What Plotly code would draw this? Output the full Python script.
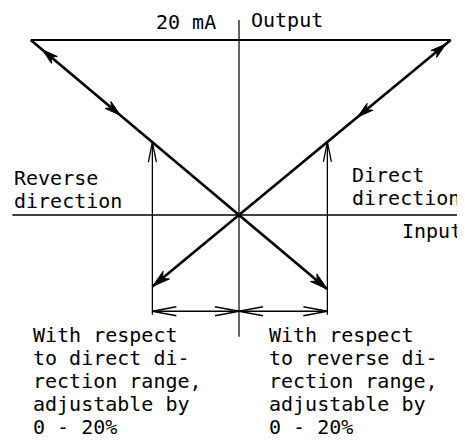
import numpy as np
import plotly.graph_objects as go

# geometry of the characteristic, in diagram units (output in mA, 1 unit = 1 mA)
out_max = 20.0
reverse_corner = [-23.8, 20.0]   # where the reverse-direction line meets 20 mA
direct_corner = [24.2, 20.0]     # where the direct-direction line meets 20 mA
shift_x = [-9.9, 10.1]           # 0 - 20 % range shift, left and right
input_axis = [-25.9, 25.8]
output_axis = [-13.9, 22.3]
dim_y = -11.0
ext_bottom = -11.4

# where the direction arrows sit on each line (fraction of the way to 20 mA)
reverse_arrows = [0.945, 0.57]
direct_arrows = [0.978, 0.56]

# text
label_20ma = "20 mA"
label_output = "Output"
label_input = "Input"
reverse_label = ["Reverse", "direction"]
direct_label = ["Direct", "direction"]
note_left = ["With respect", "to direct di-", "rection range,", "adjustable by", "0 - 20%"]
note_right = ["With respect", "to reverse di-", "rection range,", "adjustable by", "0 - 20%"]

S = 8.75  # px per unit
W, H = 465, 443
OFF = 8   # page body margin in front of the figure
FONT = dict(family="DejaVu Sans Mono", size=20, color="black")


def y_on(corner, x):
    return corner[1] / corner[0] * x


def head(tip, d, length, half, closed=True):
    d = np.array(d, float)
    u = d / np.hypot(*d)
    n = np.array([-u[1], u[0]])
    tip = np.array(tip, float)
    base = tip - u * length / S
    p1 = base + n * half / S
    p2 = base - n * half / S
    if closed:
        notch = tip - u * 0.72 * length / S
        path = f"M{p1[0]},{p1[1]} L{tip[0]},{tip[1]} L{p2[0]},{p2[1]} L{notch[0]},{notch[1]} Z"
        return dict(type="path", path=path, xref="x", yref="y",
                    fillcolor="black", line=dict(color="black", width=1))
    path = f"M{p1[0]},{p1[1]} L{tip[0]},{tip[1]} L{p2[0]},{p2[1]}"
    return dict(type="path", path=path, xref="x", yref="y",
                line=dict(color="black", width=1.3))


fig = go.Figure()


def seg(xs, ys, w):
    fig.add_trace(go.Scatter(x=xs, y=ys, mode="lines", hoverinfo="skip",
                             line=dict(color="black", width=w)))


# axes and 20 mA line
seg(input_axis, [0, 0], 1.5)
seg([0, 0], output_axis, 1.2)
seg([reverse_corner[0], direct_corner[0]], [out_max, out_max], 2)

# characteristics, extended past zero by the range shift
xl, xr = shift_x
seg([reverse_corner[0], xr], [reverse_corner[1], y_on(reverse_corner, xr)], 2.6)
seg([direct_corner[0], xl], [direct_corner[1], y_on(direct_corner, xl)], 2.6)

# shift markers and dimension line
seg([xl, xl], [ext_bottom, y_on(reverse_corner, xl)], 1.3)
seg([xr, xr], [ext_bottom, y_on(direct_corner, xr)], 1.3)
seg([xl, xr], [dim_y, dim_y], 1.3)

shapes = []
# arrows along the reverse line
f_top, f_mid = reverse_arrows
rx, ry = reverse_corner
shapes.append(head([rx * f_top, ry * f_top], [rx, ry], 16, 4.5))
shapes.append(head([rx * f_mid, ry * f_mid], [-rx, -ry], 16, 4.5))
# arrows along the direct line
f_top, f_mid = direct_arrows
dx, dy = direct_corner
shapes.append(head([dx * f_top, dy * f_top], [dx, dy], 16, 4.5))
shapes.append(head([dx * f_mid, dy * f_mid], [-dx, -dy], 16, 4.5))
# ends below zero
shapes.append(head([xl, y_on(direct_corner, xl)], [-dx, -dy], 18, 5))
shapes.append(head([xr, y_on(reverse_corner, xr)], [-rx, -ry], 18, 5))
# shift markers pointing up to the lines
shapes.append(head([xl, y_on(reverse_corner, xl)], [0, 1], 20, 4, closed=False))
shapes.append(head([xr, y_on(direct_corner, xr)], [0, 1], 20, 4, closed=False))
# dimension arrows
shapes.append(head([xl, dim_y], [-1, 0], 24, 4.5, closed=False))
shapes.append(head([0, dim_y], [1, 0], 24, 4.5, closed=False))
shapes.append(head([0, dim_y], [-1, 0], 24, 4.5, closed=False))
shapes.append(head([xr, dim_y], [1, 0], 24, 4.5, closed=False))


def px_x(p):
    return (p - 239) / S


def px_y(p):
    return (215 - p) / S


ann = []


def txt(s, x, y, anchor="left"):
    ann.append(dict(text=s, x=px_x(x), y=px_y(y), xref="x", yref="y",
                    xanchor=anchor, yanchor="middle", showarrow=False, font=FONT))


txt(label_20ma, 218, 22, "right")
txt(label_output, 249, 20)
txt(label_input, 464, 231, "right")
for i, s in enumerate(reverse_label):
    txt(s, 12, 178 + 23 * i)
for i, s in enumerate(direct_label):
    txt(s, 350, 175 + 23 * i)
for i, s in enumerate(note_left):
    txt(s, 31, 335 + 23 * i)
for i, s in enumerate(note_right):
    txt(s, 267, 335 + 23 * i)

fig.update_layout(
    width=W - OFF, height=H - OFF, margin=dict(l=0, r=0, t=0, b=0),
    paper_bgcolor="white", plot_bgcolor="white", showlegend=False,
    xaxis=dict(range=[px_x(OFF), px_x(W)], visible=False),
    yaxis=dict(range=[px_y(H), px_y(OFF)], visible=False),
    shapes=shapes, annotations=ann,
)
fig.write_html("out.html")
